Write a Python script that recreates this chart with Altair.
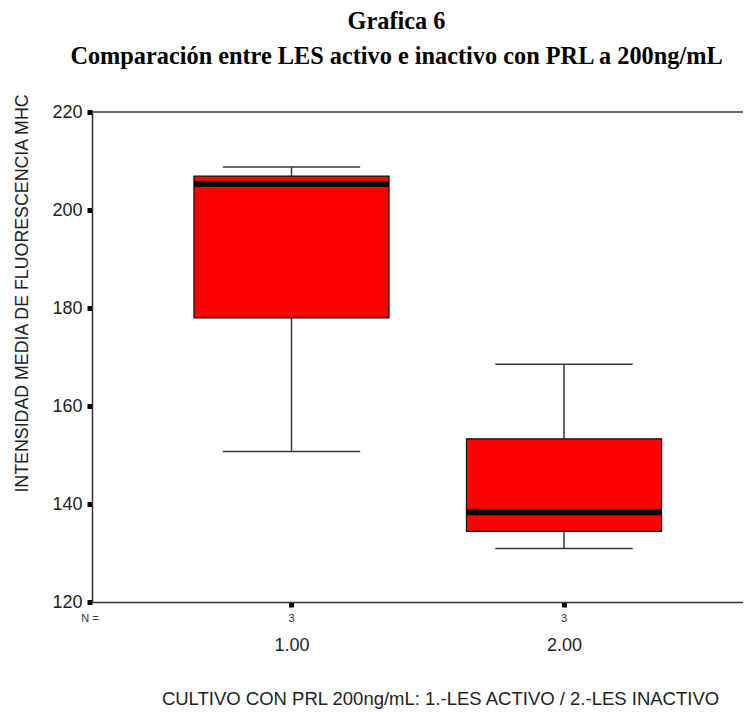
import altair as alt
import pandas as pd

# ---- data ----
groups = [1.0, 2.0]
n_counts = [3, 3]
whisker_low = [150.7, 130.9]
q1_vals = [178.0, 134.4]
median_vals = [205.3, 138.3]
q3_vals = [206.9, 153.3]
whisker_high = [208.8, 168.5]
y_ticks = [120, 140, 160, 180, 200, 220]
title_lines = ["Grafica 6", "Comparación entre LES activo e inactivo con PRL a 200ng/mL"]
y_title = "INTENSIDAD MEDIA DE FLUORESCENCIA MHC"
x_title = "CULTIVO CON PRL 200ng/mL: 1.-LES ACTIVO / 2.-LES INACTIVO"
n_label = ["N ="]

W, H = 651, 490
BOX_HALF = 0.358
CAP_HALF = 0.252

df = pd.DataFrame(dict(g=groups, n=n_counts, lo=whisker_low, q1=q1_vals,
                       med=median_vals, q3=q3_vals, hi=whisker_high))
df["bx1"] = df["g"] - BOX_HALF
df["bx2"] = df["g"] + BOX_HALF
df["cx1"] = df["g"] - CAP_HALF
df["cx2"] = df["g"] + CAP_HALF

xscale = alt.Scale(domain=[0.2679, 2.6569], nice=False, zero=False)
yscale = alt.Scale(domain=[120, 220], nice=False, zero=False)

xaxis = alt.Axis(values=groups, format=".2f", title=x_title, grid=False,
                 labelFontSize=18, labelPadding=29, labelColor="#222",
                 labelFont="Liberation Sans",
                 tickSize=5, tickWidth=5, tickColor="black",
                 domainColor="#333", domainWidth=1.5,
                 titleFont="Liberation Sans", titleFontSize=18.5, titleFontWeight="normal",
                 titleColor="#222", titleX=348, titleY=96, titleAlign="center",
                 titleBaseline="middle")
yaxis = alt.Axis(values=y_ticks, title=y_title, grid=False,
                 labelFontSize=18, labelPadding=5, labelColor="#222",
                 labelFont="Liberation Sans",
                 tickSize=5, tickWidth=5, tickColor="black",
                 domainColor="#333", domainWidth=1.5,
                 titleFont="Liberation Sans", titleFontSize=17.8, titleFontWeight="normal",
                 titleColor="#222", titleX=-70, titleY=181, titleAngle=-90,
                 titleAlign="center", titleBaseline="middle")

base = alt.Chart(df)

whisker = base.mark_rule(color="#383838", strokeWidth=1.5).encode(
    x=alt.X("g:Q", scale=xscale, axis=xaxis),
    y=alt.Y("lo:Q", scale=yscale, axis=yaxis),
    y2="hi:Q",
)
cap_hi = base.mark_rule(color="#383838", strokeWidth=1.5).encode(
    x="cx1:Q", x2="cx2:Q", y="hi:Q")
cap_lo = base.mark_rule(color="#383838", strokeWidth=1.5).encode(
    x="cx1:Q", x2="cx2:Q", y="lo:Q")
box = base.mark_rect(fill="#FF0000", stroke="#111", strokeWidth=1.2).encode(
    x="bx1:Q", x2="bx2:Q", y="q1:Q", y2="q3:Q")
med = base.mark_rule(color="black", strokeWidth=6).encode(
    x="bx1:Q", x2="bx2:Q", y="med:Q")
ntext = base.mark_text(fontSize=11, font="Liberation Sans", color="#333",
                       baseline="middle").encode(
    x="g:Q", y=alt.value(H + 17), text="n:Q")
nlabel = alt.Chart(pd.DataFrame({"t": n_label})).mark_text(
    fontSize=11, font="Liberation Sans", color="#333", baseline="middle", align="center").encode(
    x=alt.value(-2), y=alt.value(H + 17), text="t:N")
top_border = alt.Chart(pd.DataFrame({"t": n_label})).mark_rule(
    color="#333", strokeWidth=1.5).encode(
    x=alt.value(0), x2=alt.value(W), y=alt.value(0))

chart = alt.layer(whisker, cap_hi, cap_lo, box, med, ntext, nlabel, top_border).properties(
    width=W, height=H,
    title=alt.Title(title_lines, font="Liberation Serif", fontSize=24.3, fontWeight="bold",
                    color="black", lineHeight=35, anchor="middle", dx=-21, dy=11, offset=35),
    autosize=alt.AutoSizeParams(type="none"),
    padding={"left": 84, "top": 104, "right": 0, "bottom": 108},
).configure_view(stroke=None)

chart.save("out.html", embed_options={"renderer": "svg", "actions": False})
